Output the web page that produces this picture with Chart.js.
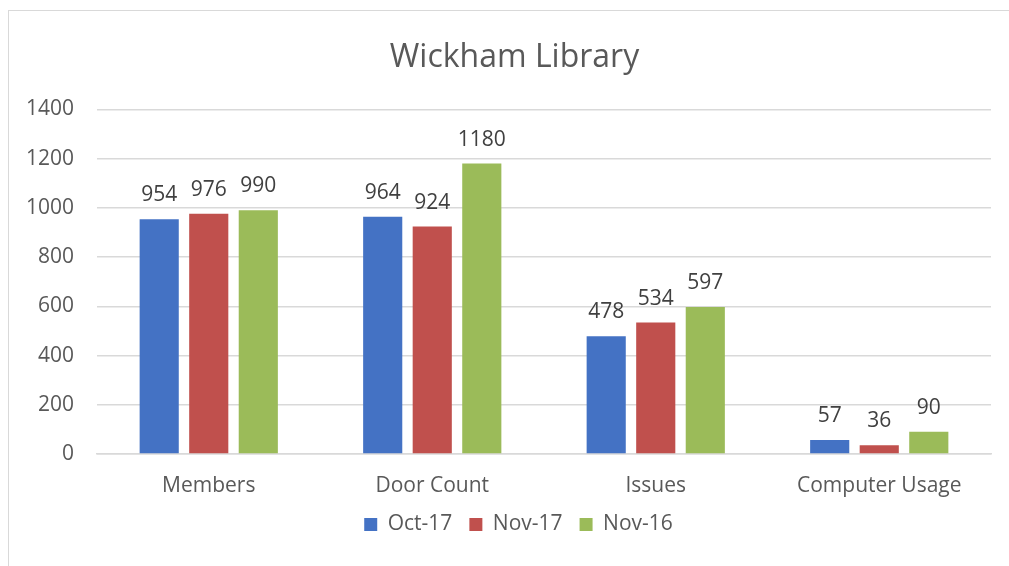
<!DOCTYPE html>
<html><head><meta charset="utf-8">
<script src="https://cdn.jsdelivr.net/npm/chart.js@4/dist/chart.umd.min.js"></script>
<style>
html,body{margin:0;padding:0;background:#fff;overflow:hidden}
#frame{position:absolute;left:8px;top:10px;width:1200px;height:800px;border:1px solid #d9d9d9;box-sizing:border-box}
#wrap{position:absolute;left:0;top:0;width:1009px;height:566px}
</style></head>
<body>
<div id="frame"></div>
<div id="wrap"><canvas id="c" width="1009" height="566"></canvas></div>
<script>
const categories = ["Members", "Door Count", "Issues", "Computer Usage"];
const seriesNames = ["Oct-17", "Nov-17", "Nov-16"];
const oct17 = [954, 964, 478, 57];
const nov17 = [976, 924, 534, 36];
const nov16 = [990, 1180, 597, 90];
const yTicks = [0, 200, 400, 600, 800, 1000, 1200, 1400];

const FONT = "'Open Sans', 'Liberation Sans', sans-serif";
const TXT = "#595959";

const labelPlugin = {
  id: 'valueLabels',
  afterLayout(chart) {
    if (chart.legend) { chart.legend.left += 10; chart.legend.right += 10; }
    if (chart.titleBlock) { chart.titleBlock.left += 6; chart.titleBlock.right += 6; }
  },
  afterDatasetsDraw(chart) {
    const ctx = chart.ctx;
    ctx.save();
    ctx.font = "21px " + FONT;
    ctx.fillStyle = "#404040";
    ctx.textAlign = "center";
    ctx.textBaseline = "alphabetic";
    chart.data.datasets.forEach((ds, i) => {
      const meta = chart.getDatasetMeta(i);
      meta.data.forEach((bar, j) => {
        ctx.fillText(String(ds.data[j]), bar.x, bar.y - 18);
      });
    });
    ctx.restore();
  }
};

new Chart(document.getElementById('c'), {
  type: 'bar',
  data: {
    labels: categories,
    datasets: [
      {label: seriesNames[0], data: oct17, backgroundColor: '#4472C4'},
      {label: seriesNames[1], data: nov17, backgroundColor: '#C0504D'},
      {label: seriesNames[2], data: nov16, backgroundColor: '#9BBB59'}
    ]
  },
  options: {
    responsive: false,
    animation: false,
    layout: {padding: {left: 26, right: 18, top: 39, bottom: 21}},
    datasets: {bar: {categoryPercentage: 0.665, barPercentage: 0.79}},
    plugins: {
      title: {display: true, text: 'Wickham Library', color: TXT,
        font: {family: FONT, size: 32, weight: 'normal'}, padding: {top: 0, bottom: 32}},
      legend: {position: 'bottom',
        labels: {color: TXT, font: {family: FONT, size: 21}, boxWidth: 13, boxHeight: 13, padding: 17}},
      tooltip: {enabled: false}
    },
    scales: {
      x: {
        grid: {display: false, drawTicks: false},
        border: {display: true, color: '#d9d9d9', width: 1.5},
        ticks: {color: TXT, font: {family: FONT, size: 21}, padding: 19},
        afterFit(axis) { axis.height = 43; }
      },
      y: {
        min: 0, max: 1400,
        afterBuildTicks(axis) { axis.ticks = yTicks.map(v => ({value: v})); },
        grid: {color: '#d9d9d9', lineWidth: 1.5, drawTicks: false},
        border: {display: false},
        ticks: {color: TXT, font: {family: FONT, size: 21}, padding: 23,
          callback: (v) => String(v)},
        afterFit(axis) { axis.width = 71; }
      }
    }
  },
  plugins: [labelPlugin]
});
</script>
</body></html>
